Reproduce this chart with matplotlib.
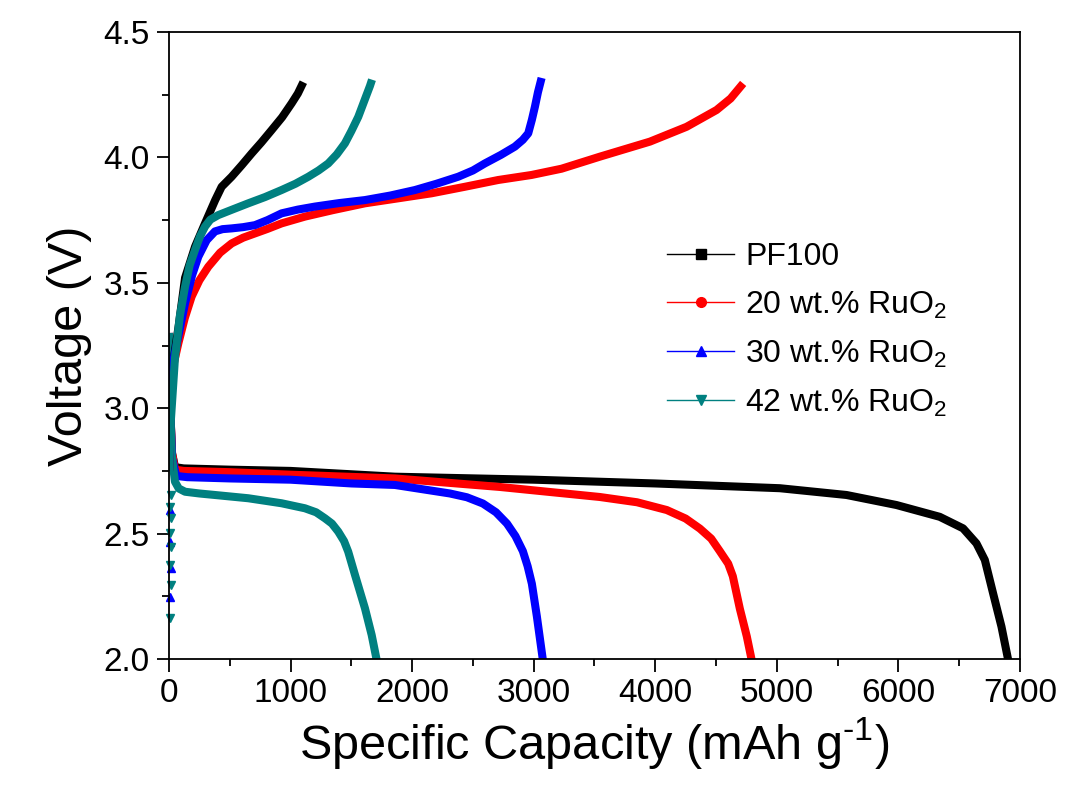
import matplotlib.pyplot as plt
from matplotlib.lines import Line2D
from matplotlib.ticker import MultipleLocator, FormatStrFormatter

plt.rcParams['font.family'] = ['Liberation Sans', 'DejaVu Sans']
plt.rcParams['mathtext.fontset'] = 'custom'
plt.rcParams['mathtext.rm'] = 'Liberation Sans'

# 数据 (mAh/g, V)
labels = ['PF100', '20 wt.% RuO$_2$', '30 wt.% RuO$_2$', '42 wt.% RuO$_2$']
colors = ['black', '#FF0000', '#0000FF', '#008080']
markers = ['s', 'o', '^', 'v']

# 充电曲线
pf_chg_x = [0, 15, 40, 80, 132, 214, 296, 380, 433, 515, 600, 680, 760, 844, 930, 1009, 1060, 1105]
pf_chg_y = [2.75, 3.05, 3.20, 3.33, 3.52, 3.644, 3.737, 3.83, 3.883, 3.923, 3.97, 4.016, 4.06, 4.109, 4.16, 4.216, 4.255, 4.30]
r20_chg_x = [0, 15, 40, 77, 130, 186, 250, 323, 420, 515, 610, 707, 810, 926, 1118, 1350, 1612, 1900, 2160, 2434,
             2708, 2982, 3229, 3544, 3956, 4257, 4504, 4620, 4723]
r20_chg_y = [2.75, 3.05, 3.18, 3.259, 3.36, 3.445, 3.51, 3.564, 3.62, 3.657, 3.68, 3.697, 3.715, 3.737, 3.764, 3.79,
             3.817, 3.838, 3.857, 3.883, 3.910, 3.930, 3.955, 4.003, 4.063, 4.122, 4.189, 4.235, 4.295]
r30_chg_x = [0, 15, 40, 90, 132, 190, 241, 310, 378, 440, 515, 610, 707, 810, 926, 1060, 1200, 1400, 1612, 1820,
             2023, 2200, 2379, 2500, 2598, 2730, 2845, 2910, 2955, 2985, 3010, 3035, 3065]
r30_chg_y = [2.75, 3.05, 3.20, 3.32, 3.418, 3.53, 3.604, 3.67, 3.705, 3.714, 3.717, 3.722, 3.730, 3.75, 3.777, 3.792,
             3.804, 3.818, 3.830, 3.848, 3.870, 3.895, 3.923, 3.948, 3.976, 4.01, 4.043, 4.07, 4.096, 4.15, 4.202, 4.26, 4.317]
r42_chg_x = [0, 15, 49, 90, 132, 170, 214, 255, 296, 340, 405, 520, 652, 790, 926, 1040, 1146, 1230, 1310, 1380,
             1447, 1500, 1557, 1610, 1653, 1670]
r42_chg_y = [2.75, 2.95, 3.20, 3.37, 3.485, 3.57, 3.631, 3.685, 3.724, 3.752, 3.770, 3.792, 3.817, 3.842, 3.870, 3.895,
             3.923, 3.948, 3.976, 4.012, 4.056, 4.105, 4.162, 4.23, 4.285, 4.31]

# 放电曲线
pf_dis_x = [0, 10, 25, 50, 120, 500, 1000, 1858, 3000, 4000, 5025, 5573, 5984, 6340, 6532, 6642, 6711, 6779, 6848, 6910]
pf_dis_y = [3.30, 3.00, 2.82, 2.765, 2.76, 2.755, 2.75, 2.727, 2.715, 2.70, 2.681, 2.654, 2.614, 2.567, 2.521, 2.461,
            2.395, 2.262, 2.129, 1.98]
r20_dis_x = [0, 10, 25, 50, 120, 500, 1000, 1858, 2722, 3544, 3850, 4095, 4250, 4367, 4460, 4531, 4600, 4638, 4696,
             4753, 4800]
r20_dis_y = [3.30, 3.00, 2.82, 2.755, 2.75, 2.745, 2.735, 2.72, 2.686, 2.646, 2.625, 2.594, 2.56, 2.52, 2.48, 2.43,
             2.38, 2.33, 2.20, 2.09, 1.98]
r30_dis_x = [0, 10, 25, 60, 150, 500, 1000, 1500, 1858, 2311, 2450, 2582, 2690, 2780, 2850, 2911, 2950, 2985, 3026,
             3080]
r30_dis_y = [3.30, 3.00, 2.80, 2.73, 2.725, 2.72, 2.715, 2.70, 2.694, 2.66, 2.645, 2.62, 2.585, 2.54, 2.49, 2.43,
             2.37, 2.30, 2.17, 1.98]
r42_dis_x = [0, 10, 22, 49, 80, 132, 250, 378, 652, 926, 1118, 1210, 1283, 1340, 1392, 1440, 1474, 1530, 1612, 1667,
             1715]
r42_dis_y = [3.30, 3.00, 2.813, 2.707, 2.68, 2.667, 2.66, 2.654, 2.641, 2.621, 2.601, 2.585, 2.561, 2.54, 2.508, 2.47,
             2.428, 2.335, 2.202, 2.096, 1.98]

# 充电起点处零散的点
r30_start_x = [12, 10, 14, 12]
r30_start_y = [2.594, 2.468, 2.362, 2.248]
r42_start_x = [14, 12, 14, 12, 14, 12, 14, 12]
r42_start_y = [2.654, 2.607, 2.561, 2.501, 2.448, 2.375, 2.295, 2.162]

chg = [(pf_chg_x, pf_chg_y), (r20_chg_x, r20_chg_y), (r30_chg_x, r30_chg_y), (r42_chg_x, r42_chg_y)]
dis = [(pf_dis_x, pf_dis_y), (r20_dis_x, r20_dis_y), (r30_dis_x, r30_dis_y), (r42_dis_x, r42_dis_y)]

fig = plt.figure(figsize=(10.65, 7.85), dpi=100)
ax = fig.add_axes([0.1587, 0.1605, 0.799, 0.7987])

for i in range(4):
    ax.plot(dis[i][0], dis[i][1], color=colors[i], lw=5.8, solid_capstyle='butt', solid_joinstyle='round')
for i in range(4):
    ax.plot(chg[i][0], chg[i][1], color=colors[i], lw=5.8, solid_capstyle='butt', solid_joinstyle='round')

ax.plot(r30_start_x, r30_start_y, ls='none', marker='^', ms=6, color=colors[2], clip_on=False)
ax.plot(r42_start_x, r42_start_y, ls='none', marker='v', ms=6, color=colors[3], clip_on=False)

ax.set_xlim(0, 7000)
ax.set_ylim(2.0, 4.5)
ax.xaxis.set_major_locator(MultipleLocator(1000))
ax.xaxis.set_minor_locator(MultipleLocator(500))
ax.yaxis.set_major_locator(MultipleLocator(0.5))
ax.yaxis.set_minor_locator(MultipleLocator(0.25))
ax.yaxis.set_major_formatter(FormatStrFormatter('%.1f'))

ax.tick_params(which='both', direction='out', top=False, right=False, width=1.3)
ax.tick_params(which='major', length=9, labelsize=24, pad=5)
ax.tick_params(which='minor', length=5)
for s in ax.spines.values():
    s.set_linewidth(1.3)

ax.set_xlabel('Specific Capacity (mAh g$^{\\text{-1}}$)', fontsize=35, labelpad=4)
ax.set_ylabel('Voltage (V)', fontsize=35, labelpad=8)

# 图例
handles = [Line2D([], [], color=colors[i], lw=1, marker=markers[i], ms=7) for i in range(4)]
ax.legend(handles, labels, loc='upper left', bbox_to_anchor=(0.6263, 0.6917),
          bbox_transform=fig.transFigure, frameon=False, fontsize=23,
          handlelength=2.1, handletextpad=0.35, labelspacing=0.55,
          borderpad=0, borderaxespad=0)

plt.savefig('out.png', dpi=100)
